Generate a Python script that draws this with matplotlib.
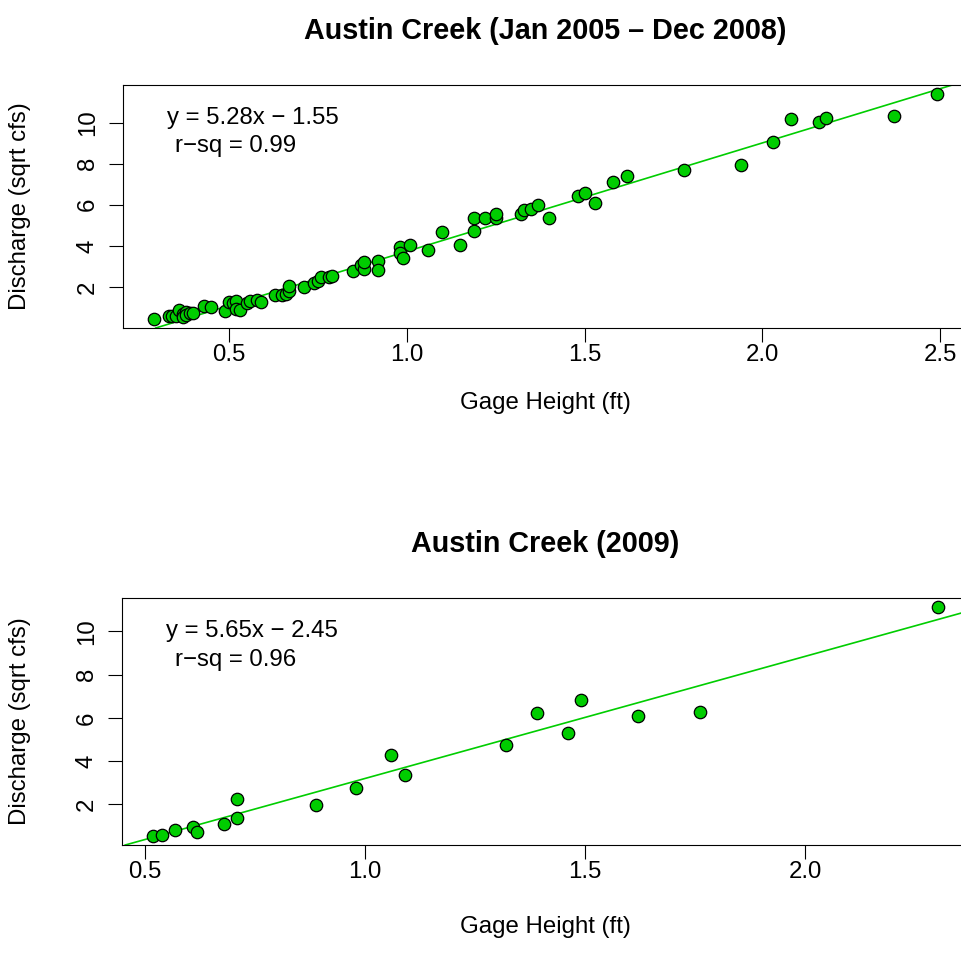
import matplotlib
matplotlib.use("Agg")
import matplotlib.pyplot as plt

plt.rcParams['font.family'] = ['Liberation Sans', 'DejaVu Sans']

# Austin Creek, Jan 2005 - Dec 2008
gage_0508 = [0.29, 0.33, 0.34, 0.35, 0.36, 0.37, 0.37, 0.38, 0.38, 0.39,
             0.40, 0.43, 0.45, 0.49, 0.50, 0.51, 0.52, 0.52, 0.53, 0.55,
             0.56, 0.58, 0.59, 0.63, 0.65, 0.66, 0.67, 0.67, 0.71, 0.74,
             0.75, 0.76, 0.78, 0.79, 0.85, 0.87, 0.88, 0.88, 0.92, 0.92,
             0.98, 0.98, 0.99, 1.01, 1.06, 1.10, 1.15, 1.19, 1.19, 1.22,
             1.25, 1.25, 1.32, 1.33, 1.35, 1.37, 1.40, 1.48, 1.50, 1.53,
             1.58, 1.62, 1.78, 1.94, 2.03, 2.08, 2.16, 2.18, 2.37, 2.49]
discharge_0508 = [0.44, 0.57, 0.60, 0.57, 0.89, 0.68, 0.52, 0.76, 0.62, 0.73,
                  0.71, 1.08, 1.00, 0.84, 1.28, 1.22, 1.33, 0.92, 0.89, 1.20,
                  1.33, 1.36, 1.28, 1.62, 1.60, 1.65, 1.80, 2.07, 2.02, 2.17,
                  2.30, 2.49, 2.46, 2.54, 2.78, 3.06, 2.86, 3.22, 3.24, 2.82,
                  3.92, 3.67, 3.40, 4.04, 3.79, 4.68, 4.06, 4.74, 5.37, 5.34,
                  5.34, 5.57, 5.57, 5.74, 5.81, 5.99, 5.34, 6.42, 6.59, 6.10,
                  7.12, 7.39, 7.68, 7.93, 9.04, 10.18, 10.05, 10.21, 10.34, 11.39]

# Austin Creek, 2009
gage_2009 = [0.52, 0.54, 0.57, 0.61, 0.62, 0.68, 0.71, 0.71, 0.89, 0.98,
             1.06, 1.09, 1.32, 1.39, 1.46, 1.49, 1.62, 1.76, 2.30]
discharge_2009 = [0.55, 0.58, 0.80, 0.95, 0.75, 1.08, 1.38, 2.25, 1.97, 2.75,
                  4.28, 3.38, 4.76, 6.22, 5.31, 6.85, 6.11, 6.28, 11.12]

# regression results shown on the plots
fit_0508 = (5.28, -1.55, 0.99)
fit_2009 = (5.65, -2.45, 0.96)

titles = ["Austin Creek (Jan 2005 \u2013 Dec 2008)", "Austin Creek (2009)"]
xticks_0508 = [0.5, 1.0, 1.5, 2.0, 2.5]
xticks_2009 = [0.5, 1.0, 1.5, 2.0]
yticks = [2, 4, 6, 8, 10]

W, H = 962, 960
fig = plt.figure(figsize=(W / 100, H / 100), dpi=100)


def rect(l, t, r, b):
    return [l / W, 1 - b / H, (r - l) / W, (b - t) / H]


def padded(vals):
    lo, hi = min(vals), max(vals)
    d = (hi - lo) * 0.04
    return lo - d, hi + d


# (axes box in px, x, y, fit, title, x ticks, x-label y px)
panels = [
    ((123, 85, 968, 328), gage_0508, discharge_0508, fit_0508, titles[0], xticks_0508, 403),
    ((122, 598, 969, 845), gage_2009, discharge_2009, fit_2009, titles[1], xticks_2009, 927),
]

FS = 17.3
green = "#00CD00"

for box, x, y, fit, title, xt, xlab_y in panels:
    ax = fig.add_axes(rect(*box))
    ax.scatter(x, y, s=80, c=green, edgecolors="black", linewidths=0.9, zorder=3)
    slope, icpt, rsq = fit
    ax.axline((0, icpt), slope=slope, color=green, lw=1.2, zorder=2)
    ax.set_xlim(*padded(x))
    ax.set_ylim(*padded(y))
    ax.set_xticks(xt)
    ax.set_xticklabels(["%.1f" % v for v in xt])
    ax.set_yticks(yticks)
    ax.tick_params(direction="out", length=10.4, width=0.8, labelsize=FS, pad=1)
    ax.tick_params(axis="y", labelrotation=90, pad=7)
    for lab in ax.get_yticklabels():
        lab.set_va("center")
    for sp in ax.spines.values():
        sp.set_linewidth(0.8)
    ax.set_title(title, fontsize=20.7, fontweight="bold", pad=33)

    # axis titles placed like R's mtext lines
    xc = (box[0] + box[2]) / 2 / W
    fig.text(xc, 1 - xlab_y / H, "Gage Height (ft)", fontsize=FS,
             ha="center", va="center")
    yc = 1 - (box[1] + box[3]) / 2 / H
    fig.text(20 / W, yc, "Discharge (sqrt cfs)", fontsize=FS,
             ha="center", va="center", rotation=90)

    sign = "\u2212" if icpt < 0 else "+"
    ax.text(0.052, 0.865, "y = %.2fx %s %.2f" % (slope, sign, abs(icpt)),
            transform=ax.transAxes, fontsize=FS, va="center", ha="left")
    ax.text(0.062, 0.748, "r\u2212sq = %.2f" % rsq,
            transform=ax.transAxes, fontsize=FS, va="center", ha="left")

fig.savefig("out.png", dpi=100)
